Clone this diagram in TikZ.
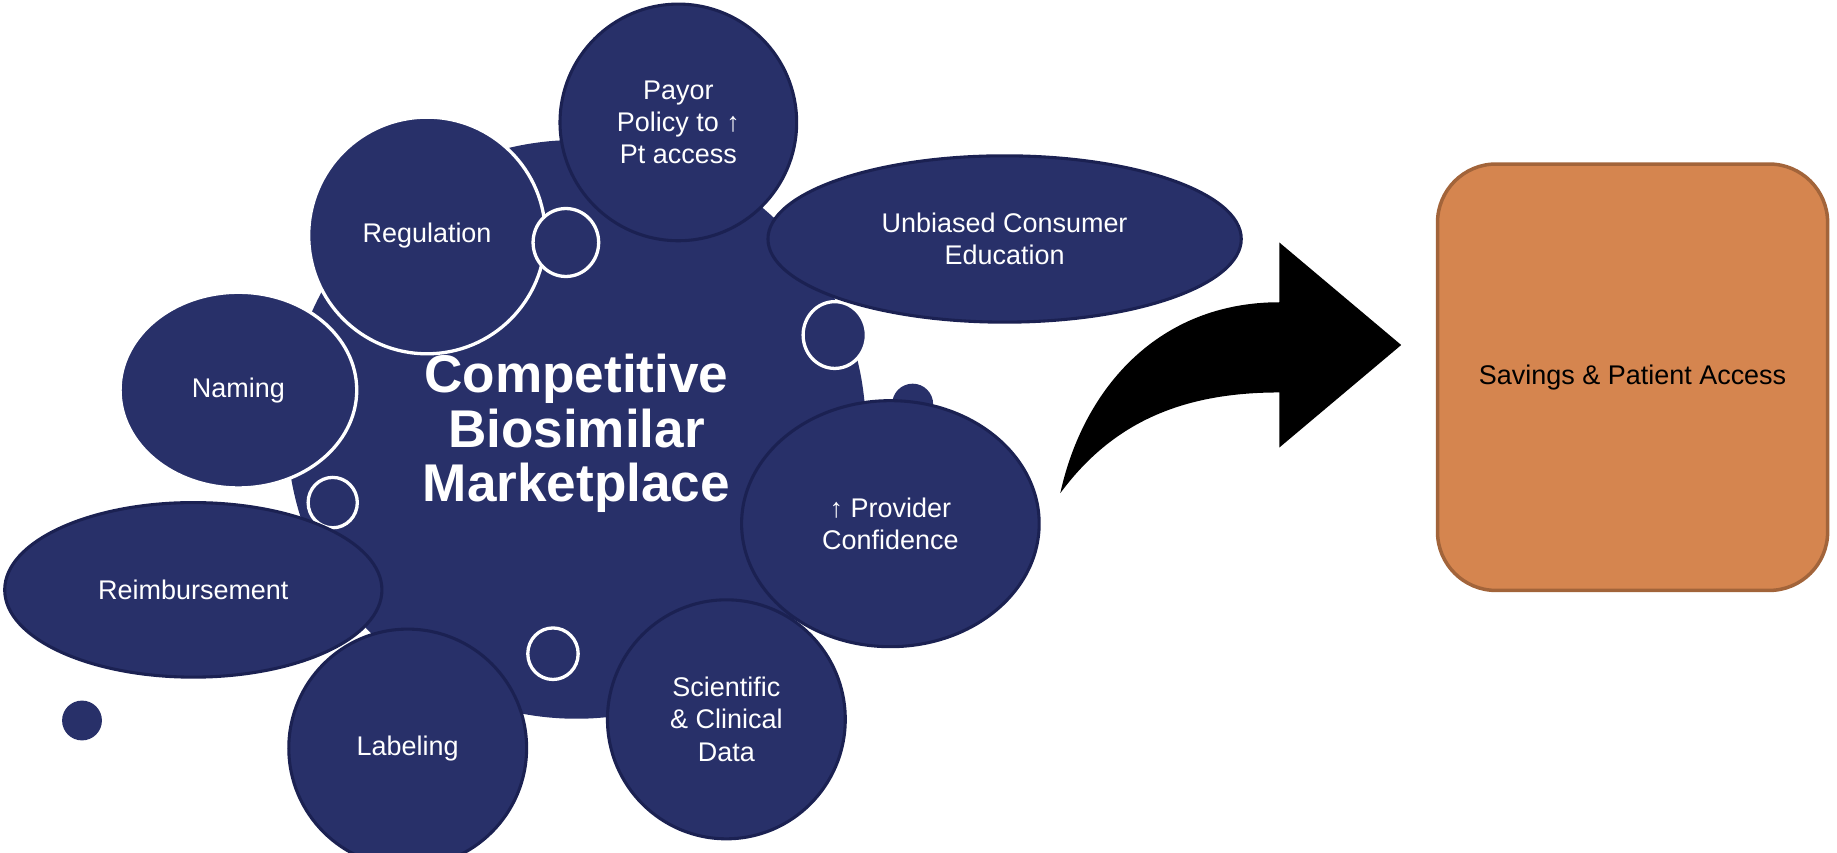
\documentclass[tikz,border=0pt]{standalone}
\usepackage{fontspec}
\setmainfont{Liberation Sans}
\usetikzlibrary{shapes.geometric}
\definecolor{navy}{HTML}{283069}
\definecolor{navyline}{HTML}{1B2152}
\definecolor{savefill}{HTML}{D5854F}
\definecolor{saveline}{HTML}{A2643A}
\begin{document}
\begin{tikzpicture}[blob/.style={ellipse, fill=navy, inner sep=0pt, text=white, align=center,
      font=\fontsize{13.1}{15.6}\selectfont},
    dark/.style={blob, draw=navyline, line width=1.5pt},
    light/.style={blob, draw=white, line width=1.6pt},
    ring/.style={ellipse, fill=navy, draw=white, line width=1.6pt, inner sep=0pt},
    spot/.style={circle, fill=navy, inner sep=0pt}]
    \useasboundingbox (0,0) rectangle (31.36,14.56);
    % Central bubble and its title
    \node[blob, minimum width=9.88cm, minimum height=9.88cm] (market) at (9.84,7.23) {};
    \node[text=white, align=center, inner sep=0pt,
      font=\fontsize{25.8}{26.4}\selectfont\bfseries] (title) at (9.84,7.16)
      {Competitive\\Biosimilar\\Marketplace};
    % White-rimmed bubbles
    \node[light, minimum width=4.04cm, minimum height=4.04cm] (regulation) at (7.29,10.54) {Regulation};
    \node[light, minimum width=4.04cm, minimum height=3.34cm] (naming) at (4.07,7.90) {Naming};
    % Small rings and dots
    \node[ring, minimum width=1.12cm, minimum height=1.16cm] (r1) at (9.66,10.42) {};
    \node[ring, minimum width=1.08cm, minimum height=1.14cm] (r2) at (14.25,8.84) {};
    \node[ring, minimum width=0.84cm, minimum height=0.86cm] (r3) at (5.68,5.98) {};
    \node[ring, minimum width=0.86cm, minimum height=0.88cm] (r4) at (9.44,3.40) {};
    \node[spot, minimum size=0.70cm] (d1) at (15.58,7.66) {};
    \node[spot, minimum size=0.68cm] (d2) at (1.40,2.26) {};
    % Dark-rimmed bubbles
    \node[dark, minimum width=4.04cm, minimum height=4.04cm] (payor) at (11.58,12.47)
      {Payor\\Policy to ↑\\Pt access};
    \node[dark, minimum width=8.08cm, minimum height=2.84cm] (unbiased) at (17.15,10.48)
      {Unbiased Consumer\\Education};
    \node[dark, minimum width=5.08cm, minimum height=4.20cm] (provider) at (15.20,5.62)
      {↑ Provider\\Confidence};
    \node[dark, minimum width=6.44cm, minimum height=2.98cm] (reimb) at (3.30,4.49) {Reimbursement};
    \node[dark, minimum width=4.06cm, minimum height=4.06cm] (labeling) at (6.96,1.79) {Labeling};
    \node[dark, minimum width=4.06cm, minimum height=4.08cm] (science) at (12.40,2.28)
      {Scientific\\\& Clinical\\Data};
    % Curved block arrow
    \fill[black] (18.10,6.14) .. controls (18.50,7.96) and (19.80,9.40) .. (21.84,9.40)
      -- (21.84,10.42) -- (23.92,8.67) -- (21.84,6.92) -- (21.84,7.86)
      .. controls (20.20,7.86) and (19.00,7.36) .. cycle;
    % Outcome box
    \node[rectangle, rounded corners=1cm, fill=savefill, draw=saveline, line width=1.7pt,
      minimum width=6.66cm, minimum height=7.28cm, font=\fontsize{13.1}{15.6}\selectfont]
      (savings) at (27.87,8.12) {Savings \& Patient Access};
\end{tikzpicture}
\end{document}
